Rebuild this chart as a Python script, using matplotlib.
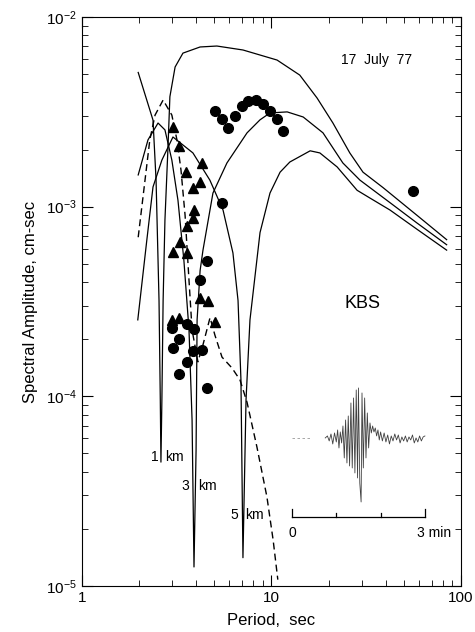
import numpy as np
import matplotlib.pyplot as plt

plt.rcParams['font.family'] = ['Liberation Sans', 'DejaVu Sans']
plt.rcParams['mathtext.default'] = 'regular'

## theoretical spectra, source depth 1, 3, 5 km (period sec, amplitude cm-sec)
per_1km = [1.98, 2.37, 2.46, 2.55, 2.59, 2.61, 2.64, 2.68, 2.74, 2.84, 2.91, 3.10, 3.41,
           4.20, 5.15, 7.07, 10.7, 14.1, 17.4, 21.1, 25.9, 30.4, 38.8, 58.6, 84.0]
amp_1km = [5.1e-3, 2.86e-3, 1.38e-3, 3.2e-4, 9.5e-5, 4.5e-5, 9.5e-5, 3.2e-4, 8.5e-4, 2.0e-3,
           3.8e-3, 5.45e-3, 6.45e-3, 6.95e-3, 7.03e-3, 6.7e-3, 5.93e-3, 4.94e-3, 3.74e-3,
           2.76e-3, 1.92e-3, 1.52e-3, 1.26e-3, 9.0e-4, 6.7e-4]

per_3km = [1.98, 2.23, 2.52, 2.74, 2.98, 3.21, 3.45, 3.67, 3.81, 3.90, 4.00, 4.05, 4.20, 4.35,
           4.91, 5.82, 7.43, 8.70, 9.82, 12.1, 14.7, 18.7, 23.8, 29.3, 42.2, 58.6, 84.0]
amp_3km = [1.47e-3, 2.25e-3, 2.76e-3, 2.54e-3, 1.76e-3, 1.08e-3, 5.2e-4, 2.24e-4, 7.5e-5,
           1.26e-5, 5.2e-5, 2.53e-4, 4.6e-4, 5.9e-4, 1.18e-3, 1.70e-3, 2.45e-3, 2.87e-3,
           3.12e-3, 3.16e-3, 2.97e-3, 2.45e-3, 1.70e-3, 1.38e-3, 1.05e-3, 8.2e-4, 6.3e-4]

per_5km = [1.97, 2.20, 2.37, 2.64, 3.02, 3.85, 4.73, 5.55, 6.26, 6.66, 6.90, 7.07, 7.34, 7.70,
           8.70, 9.82, 11.1, 12.5, 16.0, 18.0, 22.2, 28.3, 33.1, 42.2, 58.6, 84.0]
amp_5km = [2.53e-4, 6.7e-4, 1.27e-3, 1.76e-3, 2.33e-3, 1.92e-3, 1.38e-3, 9.6e-4, 5.7e-4,
           3.2e-4, 1.22e-4, 1.41e-5, 9.6e-5, 2.53e-4, 7.3e-4, 1.18e-3, 1.52e-3, 1.72e-3,
           1.97e-3, 1.92e-3, 1.62e-3, 1.22e-3, 1.11e-3, 9.6e-4, 7.6e-4, 5.9e-4]

# dashed curve
per_dash = [1.98, 2.28, 2.43, 2.68, 2.98, 3.17, 3.33, 3.50, 3.67, 3.81, 4.09, 4.35, 4.74,
            5.03, 5.48, 6.19, 6.82, 7.43, 8.38, 9.46, 10.2, 10.8]
amp_dash = [6.9e-4, 2.25e-3, 3.04e-3, 3.65e-3, 3.04e-3, 2.25e-3, 1.56e-3, 9.0e-4, 4.1e-4,
            2.24e-4, 1.52e-4, 1.87e-4, 2.6e-4, 2.1e-4, 1.61e-4, 1.41e-4, 1.22e-4, 9.3e-5,
            5.4e-5, 2.95e-5, 1.75e-5, 1.08e-5]

## observations
per_dots = [5.03, 5.48, 5.89, 6.42, 6.99, 7.52, 8.28, 9.02, 9.82, 10.7, 11.5, 55.8, 5.48,
            4.57, 4.20, 2.98, 3.58, 3.90, 3.25, 3.02, 3.85, 4.30, 3.58, 3.25, 4.57]
amp_dots = [3.2e-3, 2.9e-3, 2.6e-3, 3.0e-3, 3.4e-3, 3.6e-3, 3.65e-3, 3.48e-3, 3.2e-3, 2.9e-3,
            2.5e-3, 1.21e-3, 1.05e-3, 5.2e-4, 4.1e-4, 2.29e-4, 2.41e-4, 2.26e-4, 2.01e-4,
            1.80e-4, 1.73e-4, 1.76e-4, 1.52e-4, 1.31e-4, 1.11e-4]

per_tri = [3.02, 3.25, 4.30, 3.54, 4.20, 3.85, 3.90, 3.85, 3.58, 3.29, 3.02, 3.58, 4.20,
           4.62, 2.98, 3.25, 5.03]
amp_tri = [2.63e-3, 2.09e-3, 1.70e-3, 1.52e-3, 1.35e-3, 1.26e-3, 9.6e-4, 8.7e-4, 7.9e-4,
           6.5e-4, 5.8e-4, 5.7e-4, 3.3e-4, 3.2e-4, 2.53e-4, 2.6e-4, 2.47e-4]

## seismogram (time in min, trace amplitude arbitrary)
seis_t = [0.75, 0.80, 0.84, 0.88, 0.92, 0.96, 1.00, 1.03, 1.06, 1.09, 1.12, 1.15, 1.18, 1.21,
          1.24, 1.27, 1.30, 1.33, 1.36, 1.39, 1.42, 1.45, 1.48, 1.50, 1.53, 1.56, 1.58, 1.61,
          1.64, 1.67, 1.70, 1.73, 1.76, 1.79, 1.82, 1.85, 1.88, 1.91, 1.94, 1.97, 2.00, 2.04,
          2.08, 2.12, 2.16, 2.20, 2.24, 2.28, 2.32, 2.36, 2.40, 2.44, 2.48, 2.52, 2.56, 2.60,
          2.64, 2.68, 2.72, 2.76, 2.80, 2.84, 2.88, 2.92, 2.96, 3.00]
seis_a = [0, 2, -3, 4, -6, 5, -4, 8, -10, 6, -5, 12, -20, 18, -25, 22, -28, 35, -30, 40, -35,
          48, -40, 50, -45, -64, 45, -30, 40, -20, 25, -10, 15, 5, 12, 6, 10, 2, 8, -2, 6, -3,
          5, -4, 3, -6, 2, -3, 4, -2, 3, -5, 1, -3, 2, -4, 1, -2, 3, -5, 0, -4, 2, -3, 1, 2]

fig = plt.figure(figsize=(4.75, 6.32), dpi=100)
ax = fig.add_axes([0.1726, 0.0728, 0.7979, 0.9003])

for p, a in [(per_1km, amp_1km), (per_3km, amp_3km), (per_5km, amp_5km)]:
    ax.plot(p, a, color='k', lw=0.9)
ax.plot(per_dash, amp_dash, color='k', lw=1.0, dashes=(5, 3))
ax.plot(per_dots, amp_dots, 'o', color='k', ms=7)
ax.plot(per_tri, amp_tri, '^', color='k', ms=7.5)

ax.set_xscale('log')
ax.set_yscale('log')
ax.set_xlim(1, 100)
ax.set_ylim(1e-5, 1e-2)
ax.set_xticks([1, 10, 100])
ax.set_xticklabels(['1', '10', '100'])
ax.tick_params(which='both', direction='in', top=True, right=True, labelsize=11)
ax.tick_params(which='major', length=8)
ax.tick_params(which='minor', length=4)
ax.set_xlabel('Period,  sec', fontsize=12, labelpad=6)
ax.set_ylabel('Spectral Amplitude, cm-sec', fontsize=12, labelpad=6)

ax.text(0.778, 0.924, '17  July  77', transform=ax.transAxes, fontsize=10, ha='center', va='center')
ax.text(0.741, 0.497, 'KBS', transform=ax.transAxes, fontsize=13, ha='center', va='center')
for s, x, y in [('1', 0.193, 0.227), ('km', 0.243, 0.227), ('3', 0.272, 0.176),
                ('km', 0.332, 0.176), ('5', 0.401, 0.125), ('km', 0.456, 0.125)]:
    ax.text(x, y, s, transform=ax.transAxes, fontsize=10, ha='center', va='center')

# inset seismogram with 3 min scale bar
ins = fig.add_axes([0.6, 0.1377, 0.3158, 0.2611])
ins.set_xlim(-0.158, 3.228)
ins.set_ylim(-107, 58)
ins.axis('off')
ins.plot([0.0, 0.45], [0, 0], color='0.6', lw=0.6, dashes=(3, 3))
ins.plot([0.75] + seis_t, [0] + seis_a, color='0.25', lw=0.6)
ins.plot([0, 3], [-79, -79], color='k', lw=0.9)
for t, h in [(0, 8), (1, 4), (2, 4), (3, 8)]:
    ins.plot([t, t], [-79, -79 + h], color='k', lw=0.9)
ins.text(0, -95, '0', ha='center', va='center', fontsize=10)
ins.text(2.83, -95, '3 min', ha='left', va='center', fontsize=10)

fig.savefig('out.png', dpi=100)
